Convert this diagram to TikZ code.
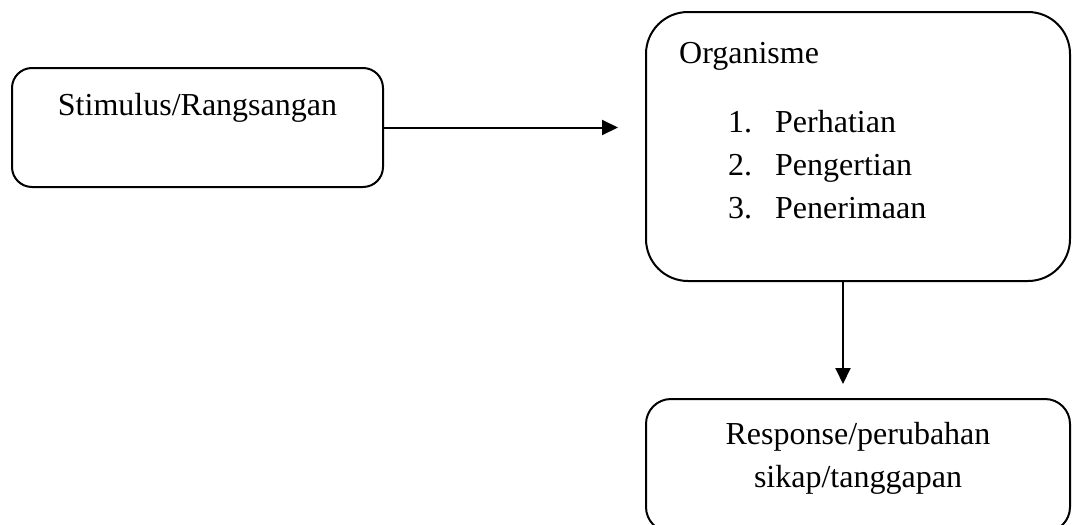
\documentclass[tikz,border=0pt]{standalone}
\usepackage{fontspec}
\setmainfont{Liberation Serif}
\usetikzlibrary{arrows.meta}
\begin{document}
\begin{tikzpicture}[x=1pt,y=-1pt,
  box/.style={draw, line width=2pt, inner sep=0pt, outer sep=0pt},
  txt/.style={inner sep=0pt, font=\fontsize{32}{38}\selectfont},
  arr/.style={line width=2pt, -{Triangle[length=16pt,width=15pt]}}]
\clip (0,0) rectangle (1072,525);
\node[box, rounded corners=20pt, minimum width=371pt, minimum height=119pt] (b1) at (197.5,127.5) {};
\node[box, rounded corners=42pt, minimum width=424pt, minimum height=269pt] (b2) at (858,146.5) {};
\node[box, rounded corners=25pt, minimum width=424pt, minimum height=133pt] (b3) at (858,465.5) {};
\node[txt, anchor=base] (t1) at (197.5,115) {Stimulus/Rangsangan};
\node[txt, anchor=base west] (org) at (679,63) {Organisme};
\node[txt, anchor=base west] (n1) at (728,132) {1.};
\node[txt, anchor=base west] (l1) at (775,132) {Perhatian};
\node[txt, anchor=base west] (n2) at (728,175) {2.};
\node[txt, anchor=base west] (l2) at (775,175) {Pengertian};
\node[txt, anchor=base west] (n3) at (728,218) {3.};
\node[txt, anchor=base west] (l3) at (775,218) {Penerimaan};
\node[txt, anchor=base] (r1) at (858,444) {Response/perubahan};
\node[txt, anchor=base] (r2) at (858,487) {sikap/tanggapan};
\draw[arr, shorten >=28pt] (b1.east) -- (b1.east -| b2.west);
\draw[arr] ([xshift=-15pt]b2.south) -- ([xshift=-15pt,yshift=15pt]b3.north);
\end{tikzpicture}
\end{document}
